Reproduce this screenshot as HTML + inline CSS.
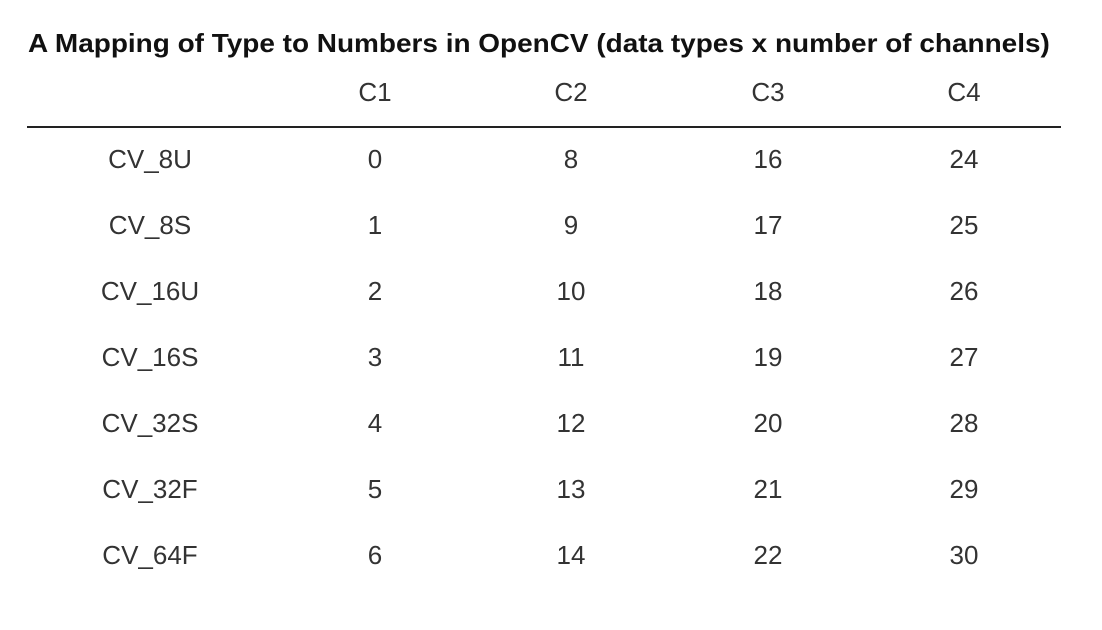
<!DOCTYPE html>
<html><head><meta charset="utf-8"><style>
body{margin:0;width:1102px;height:630px;background:#fff;font-family:"Liberation Sans",Arial,sans-serif;color:#222;position:relative;overflow:hidden}
.t{position:absolute;left:28px;top:28px;font-size:26px;font-weight:bold;white-space:nowrap;color:#111;transform-origin:0 0;transform:scaleX(1.075)}
.c{position:absolute;width:200px;margin-left:-100px;text-align:center;font-size:26px;line-height:30px;color:#333}
.line{position:absolute;left:27px;top:126px;width:1034px;height:2px;background:#222}
</style></head><body>
<div class="t">A Mapping of Type to Numbers in OpenCV (data types x number of channels)</div>
<div class="line"></div>
<div id="g"></div>
<script>
var xs=[150,375,571,768,964];
var h=["","C1","C2","C3","C4"];
var rows=[["CV_8U",0,8,16,24],["CV_8S",1,9,17,25],["CV_16U",2,10,18,26],["CV_16S",3,11,19,27],["CV_32S",4,12,20,28],["CV_32F",5,13,21,29],["CV_64F",6,14,22,30]];
var s="";
function add(x,y,t){s+='<div class="c" style="left:'+x+'px;top:'+(y-14)+'px">'+t+'</div>';}
h.forEach(function(t,i){add(xs[i],91,t)});
rows.forEach(function(r,j){var y=158+j*66;r.forEach(function(t,i){add(xs[i],y,t)})});
document.getElementById("g").innerHTML=s;
</script>
</body></html>
